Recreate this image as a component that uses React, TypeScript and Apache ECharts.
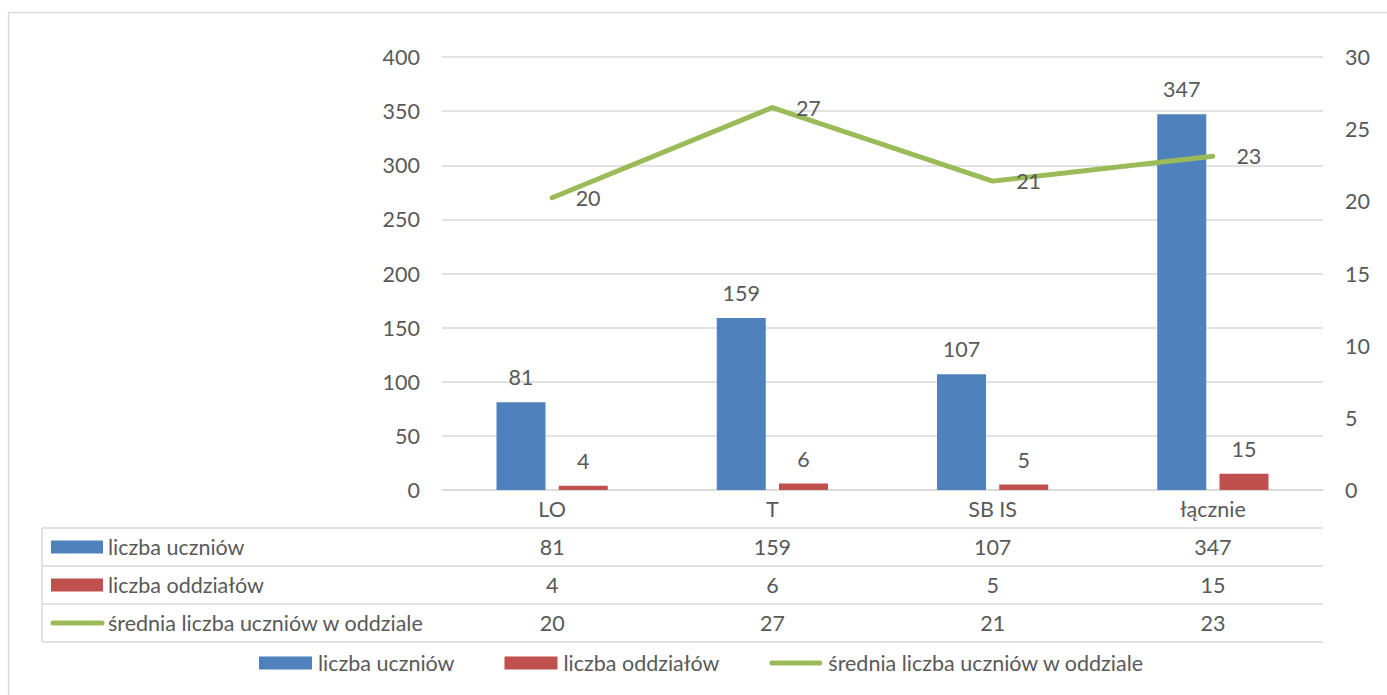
import React, { useEffect, useRef } from "react";
import * as echarts from "echarts";

const categories = ["LO", "T", "SB IS", "łącznie"];
const students = [81, 159, 107, 347];
const classes = [4, 6, 5, 15];
const average = [20.25, 26.5, 21.4, 23.13];
const seriesNames = ["liczba uczniów", "liczba oddziałów", "średnia liczba uczniów w oddziale"];

const BLUE = "#4F81BD";
const RED = "#C0504D";
const GREEN = "#9BBB59";
const TEXT = "#595959";
const LINE = "#D9D9D9";
const FONT = "Lato";
const FS = 21.5;

const GL = 442;
const GR = 1323;
const GT = 57;
const GB = 490;
const ROW_H = 38;

export default function App() {
  const ref = useRef<HTMLDivElement>(null);
  useEffect(() => {
    const chart = echarts.init(ref.current!, null, { renderer: "svg" });
    const catW = (GR - GL) / categories.length;
    const rows = [students, classes, average.map((v) => Math.round(v))];
    const graphic: any[] = [];
    graphic.push({
      type: "rect",
      shape: { x: 8.5, y: 12.5, width: 1400, height: 720 },
      style: { fill: "none", stroke: LINE, lineWidth: 1.5 },
      silent: true,
    });
    for (let r = 0; r <= rows.length; r++) {
      const y = GB + ROW_H * (r + 1);
      graphic.push({
        type: "line",
        shape: { x1: 42, y1: y, x2: GR, y2: y },
        style: { stroke: LINE, lineWidth: 1.5 },
      });
    }
    graphic.push({
      type: "line",
      shape: { x1: 42, y1: GB + ROW_H, x2: 42, y2: GB + ROW_H * 4 },
      style: { stroke: LINE, lineWidth: 1.5 },
    });
    rows.forEach((vals, r) => {
      const cy = GB + ROW_H * (r + 1) + ROW_H / 2;
      if (r < 2) {
        graphic.push({
          type: "rect",
          shape: { x: 51, y: cy - 6.5, width: 52, height: 13 },
          style: { fill: r === 0 ? BLUE : RED },
        });
      } else {
        graphic.push({
          type: "line",
          shape: { x1: 53, y1: cy, x2: 102, y2: cy },
          style: { stroke: GREEN, lineWidth: 5, lineCap: "round" },
        });
      }
      graphic.push({
        type: "text",
        x: 108,
        y: cy,
        style: { text: seriesNames[r], fill: TEXT, font: `${FS}px ${FONT}`, verticalAlign: "middle", align: "left" },
      });
      vals.forEach((v, i) => {
        graphic.push({
          type: "text",
          x: GL + catW * (i + 0.5),
          y: cy,
          style: { text: String(v), fill: TEXT, font: `${FS}px ${FONT}`, verticalAlign: "middle", align: "center" },
        });
      });
    });

    const lbl = { color: TEXT, fontSize: FS, fontFamily: FONT };

    chart.setOption({
      animation: false,
      textStyle: { fontFamily: FONT, color: TEXT },
      grid: { left: GL, right: 1387 - GR, top: GT, bottom: 695 - GB },
      legend: {
        top: 652,
        left: 259,
        padding: 0,
        itemWidth: 53,
        itemHeight: 13,
        itemGap: 50,
        textStyle: { ...lbl, padding: [0, 0, 0, 1] },
        data: [
          { name: seriesNames[0], icon: "rect" },
          { name: seriesNames[1], icon: "rect" },
          {
            name: seriesNames[2],
            icon: "path://M2.5,0 H50.5 A2.5,2.5 0 0 1 50.5,5 H2.5 A2.5,2.5 0 0 1 2.5,0 Z",
          },
        ],
      },
      xAxis: {
        type: "category",
        data: categories,
        axisLine: { lineStyle: { color: LINE, width: 1.5 } },
        axisTick: { length: ROW_H * 4, lineStyle: { color: LINE, width: 1.5 } },
        axisLabel: { ...lbl, margin: 19, verticalAlign: "middle" },
      },
      yAxis: [
        {
          type: "value",
          min: 0,
          max: 400,
          interval: 50,
          axisLine: { show: false },
          axisTick: { show: false },
          splitLine: { lineStyle: { color: LINE, width: 1.5 } },
          axisLabel: { ...lbl, margin: 22 },
        },
        {
          type: "value",
          min: 0,
          max: 30,
          interval: 5,
          axisLine: { show: false },
          axisTick: { show: false },
          splitLine: { show: false },
          axisLabel: { ...lbl, margin: 22 },
        },
      ],
      series: [
        {
          name: seriesNames[0],
          type: "bar",
          data: students,
          barWidth: 49,
          barGap: "27%",
          itemStyle: { color: BLUE },
          label: { show: true, position: "top", distance: 14, ...lbl },
        },
        {
          name: seriesNames[1],
          type: "bar",
          data: classes,
          barWidth: 49,
          barGap: "27%",
          itemStyle: { color: RED },
          label: { show: true, position: "top", distance: 14, ...lbl },
        },
        {
          name: seriesNames[2],
          type: "line",
          yAxisIndex: 1,
          data: average,
          symbol: "none",
          lineStyle: { color: GREEN, width: 5, cap: "round", join: "round" },
          itemStyle: { color: GREEN },
          z: 5,
        },
        {
          name: "labels",
          type: "scatter",
          yAxisIndex: 1,
          data: average,
          symbol: "circle",
          symbolSize: 3,
          itemStyle: { color: GREEN, opacity: 1 },
          label: {
            show: true,
            position: "right",
            distance: 22,
            ...lbl,
            opacity: 1,
            formatter: (p: any) => String(Math.round(p.value)),
          },
          z: 6,
        },
      ],
      graphic,
    });
    return () => chart.dispose();
  }, []);
  return <div ref={ref} style={{ position: "absolute", left: 0, top: 0, width: 1387, height: 695 }} />;
}
